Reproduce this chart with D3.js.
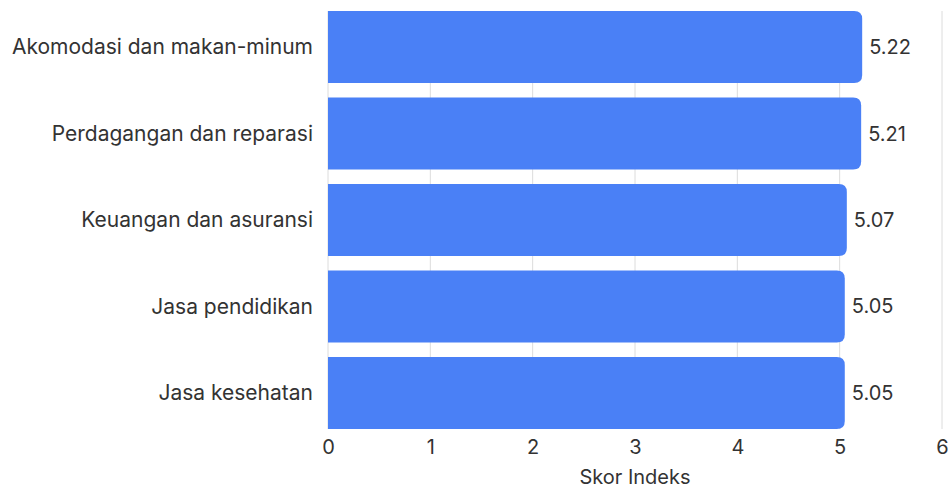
<!DOCTYPE html>
<html>
<head>
<meta charset="utf-8">
<script src="https://cdn.jsdelivr.net/npm/d3@7"></script>
<style>
  body { margin: 0; background: #fff; }
  text { font-family: Inter, sans-serif; fill: #333; }
</style>
</head>
<body>
<div id="chart"></div>
<script>
// data
const categories = ["Akomodasi dan makan-minum", "Perdagangan dan reparasi", "Keuangan dan asuransi", "Jasa pendidikan", "Jasa kesehatan"];
const values = [5.22, 5.21, 5.07, 5.05, 5.05];
const xTicks = [0, 1, 2, 3, 4, 5, 6];
const xTitle = "Skor Indeks";

const margin = {top: 11, right: 7, bottom: 59, left: 328},
      width = 949 - margin.left - margin.right,
      height = 488 - margin.top - margin.bottom;

const x = d3.scaleLinear().domain([0, 6]).range([0, width]);
const y = d3.scaleBand().domain(categories).range([0, height]).paddingInner(0.167).paddingOuter(0);

const svg = d3.select("#chart").append("svg")
    .attr("width", 949)
    .attr("height", 488)
  .append("g")
    .attr("transform", "translate(" + margin.left + "," + margin.top + ")");

// grid lines
svg.selectAll(".grid")
   .data(xTicks)
   .enter().append("line")
   .attr("x1", d => x(d)).attr("x2", d => x(d))
   .attr("y1", 0).attr("y2", height)
   .attr("stroke", "#dcdcdc")
   .attr("stroke-width", 1);

// bars with rounded right end
const r = 8;
function barPath(d, i) {
  const x0 = 0, x1 = x(d), y0 = y(categories[i]), h = y.bandwidth();
  return "M" + x0 + "," + y0 +
         "H" + (x1 - r) +
         "Q" + x1 + "," + y0 + " " + x1 + "," + (y0 + r) +
         "V" + (y0 + h - r) +
         "Q" + x1 + "," + (y0 + h) + " " + (x1 - r) + "," + (y0 + h) +
         "H" + x0 + "Z";
}
svg.selectAll(".bar")
   .data(values)
   .enter().append("path")
   .attr("d", barPath)
   .attr("fill", "#4a80f6");

// value labels
svg.selectAll(".val")
   .data(values)
   .enter().append("text")
   .attr("x", d => x(d) + 7)
   .attr("y", (d, i) => y(categories[i]) + y.bandwidth() / 2)
   .attr("dy", "0.35em")
   .style("font-size", "20px")
   .text(d => d.toFixed(2));

// category labels
svg.selectAll(".cat")
   .data(categories)
   .enter().append("text")
   .attr("x", -15)
   .attr("y", d => y(d) + y.bandwidth() / 2)
   .attr("dy", "0.35em")
   .attr("text-anchor", "end")
   .style("font-size", "21px")
   .text(d => d);

// x axis
const xAxis = svg.append("g")
   .attr("transform", "translate(0," + height + ")")
   .call(d3.axisBottom(x).tickValues(xTicks).tickFormat(d3.format("d")).tickSize(0).tickPadding(11));
xAxis.select(".domain").remove();
xAxis.selectAll("text")
   .style("font-size", "20px")
   .style("font-family", "Inter, sans-serif")
   .attr("fill", "#333");

// axis title
svg.append("text")
   .attr("text-anchor", "middle")
   .attr("x", x(3))
   .attr("y", height + 55)
   .style("font-size", "20px")
   .text(xTitle);
</script>
</body>
</html>
